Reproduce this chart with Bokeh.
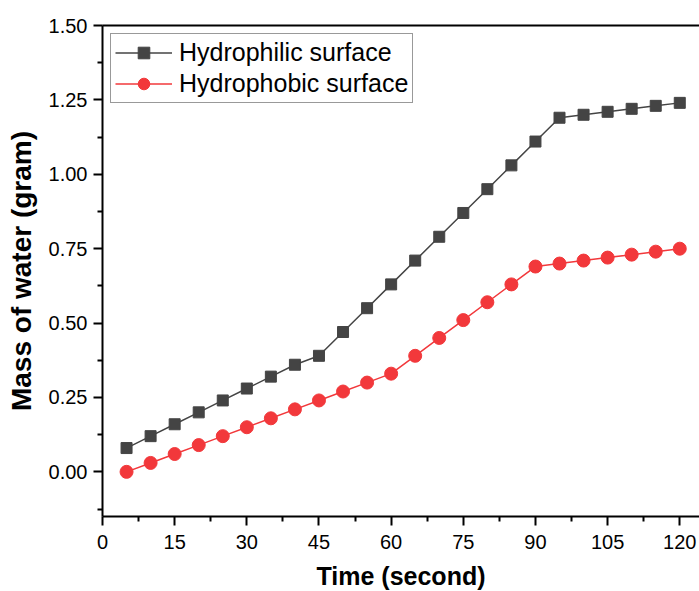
from bokeh.plotting import figure
from bokeh.models import LinearAxis, Range1d, FixedTicker, Legend, LegendItem, CustomJSTickFormatter
from bokeh.embed import file_html
from bokeh.resources import INLINE

time_s = [5, 10, 15, 20, 25, 30, 35, 40, 45, 50, 55, 60, 65, 70, 75, 80, 85, 90, 95, 100, 105, 110, 115, 120]
hydrophilic = [0.08, 0.12, 0.16, 0.20, 0.24, 0.28, 0.32, 0.36, 0.39, 0.47, 0.55, 0.63, 0.71, 0.79, 0.87, 0.95,
               1.03, 1.11, 1.19, 1.20, 1.21, 1.22, 1.23, 1.24]
hydrophobic = [0.00, 0.03, 0.06, 0.09, 0.12, 0.15, 0.18, 0.21, 0.24, 0.27, 0.30, 0.33, 0.39, 0.45, 0.51, 0.57,
               0.63, 0.69, 0.70, 0.71, 0.72, 0.73, 0.74, 0.75]
x_ticks = [0, 15, 30, 45, 60, 75, 90, 105, 120]
y_ticks = [0.0, 0.25, 0.5, 0.75, 1.0, 1.25, 1.5]
x_minor = [7.5, 22.5, 37.5, 52.5, 67.5, 82.5, 97.5, 112.5]
y_minor = [-0.125, 0.125, 0.375, 0.625, 0.875, 1.125, 1.375]

FONT = "Liberation Sans"
GREY = "#444444"
RED = "#F2383B"

p = figure(width=699, height=601, output_backend="svg", toolbar_location=None,
           x_range=Range1d(0, 124.1), y_range=Range1d(-0.15, 1.5),
           min_border_left=102, min_border_right=0, min_border_top=25, min_border_bottom=85,
           x_axis_label="Time (second)", y_axis_label="Mass of water (gram)")
p.background_fill_color = "white"
p.border_fill_color = "white"
p.outline_line_color = None
p.grid.visible = False

p.xaxis.ticker = FixedTicker(ticks=x_ticks, minor_ticks=x_minor)
p.yaxis.ticker = FixedTicker(ticks=y_ticks, minor_ticks=y_minor)
p.yaxis.formatter = CustomJSTickFormatter(code="return tick.toFixed(2);")

for ax in (p.xaxis[0], p.yaxis[0]):
    ax.axis_line_width = 2
    ax.axis_line_color = "black"
    ax.major_tick_line_width = 2
    ax.minor_tick_line_width = 2
    ax.major_tick_out = 9
    ax.major_tick_in = 0
    ax.minor_tick_out = 5
    ax.minor_tick_in = 0
    ax.major_label_text_font = FONT
    ax.major_label_text_font_size = "20px"
    ax.major_label_text_color = "black"
    ax.axis_label_text_font = FONT
    ax.axis_label_text_font_style = "bold"
    ax.axis_label_text_color = "black"
p.xaxis.axis_label_text_font_size = "25px"
p.yaxis.axis_label_text_font_size = "28px"
p.xaxis.major_label_standoff = 9
p.yaxis.major_label_standoff = 6
p.xaxis.axis_label_standoff = 10
p.yaxis.axis_label_standoff = 9

top = LinearAxis(major_tick_line_color=None, minor_tick_line_color=None,
                 major_label_text_font_size="0px", axis_line_width=2, axis_line_color="black")
top.ticker = FixedTicker(ticks=[])
p.add_layout(top, "above")

l1 = p.line(time_s, hydrophilic, line_color=GREY, line_width=1.5)
m1 = p.scatter(time_s, hydrophilic, marker="square", size=11, fill_color=GREY, line_color=GREY)
l2 = p.line(time_s, hydrophobic, line_color=RED, line_width=1.5)
m2 = p.scatter(time_s, hydrophobic, marker="circle", size=13, fill_color=RED, line_color=RED)

legend = Legend(items=[LegendItem(label="Hydrophilic surface", renderers=[l1, m1]),
                       LegendItem(label="Hydrophobic surface", renderers=[l2, m2])],
                location="top_left")
legend.label_text_font = FONT
legend.label_text_font_size = "25px"
legend.label_text_color = "black"
legend.label_standoff = 7
legend.glyph_width = 57
legend.glyph_height = 29
legend.label_height = 29
legend.spacing = 2
legend.padding = 4
legend.margin = 8
legend.border_line_color = "#333333"
legend.border_line_width = 1
legend.background_fill_alpha = 1
p.add_layout(legend)

open("out.html", "w").write(file_html(p, INLINE))
